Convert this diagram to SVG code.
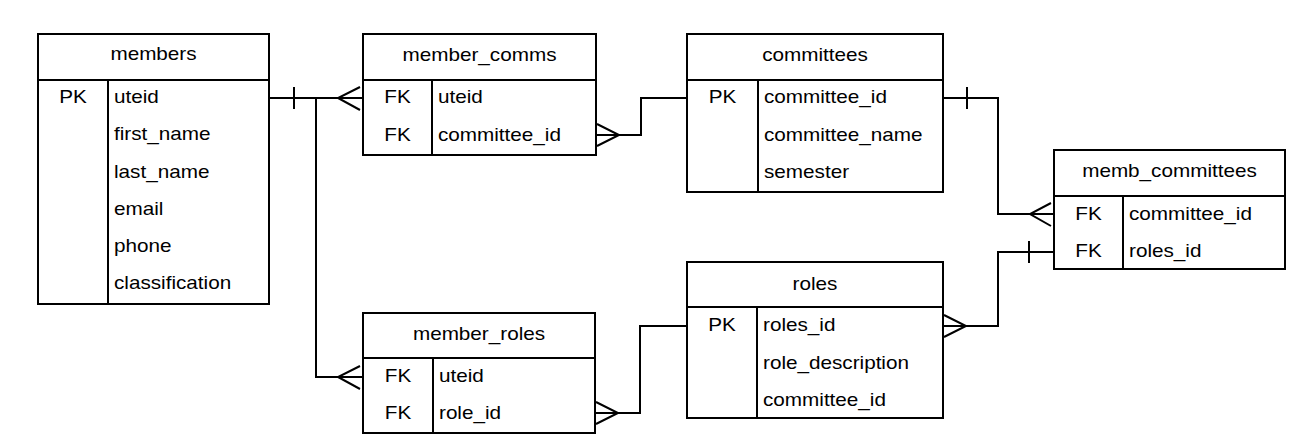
<svg xmlns="http://www.w3.org/2000/svg" width="1300" height="445" viewBox="0 0 1300 445">
<style>
  .box { fill: #ffffff; stroke: #000000; stroke-width: 2; }
  .ln { fill: none; stroke: #000000; stroke-width: 2; }
  text { font-family: "Liberation Sans", Arial, sans-serif; font-size: 18px; fill: #000000; transform-box: fill-box; transform: scaleX(1.15); }
  .h { text-anchor: middle; transform-origin: center; }
  .k { text-anchor: middle; transform-origin: center; }
  .f { text-anchor: start; transform-origin: left; }
</style>
<rect width="1300" height="445" fill="#ffffff"/>

<g id="connectors">
  <!-- members.uteid to member_comms.uteid -->
  <path class="ln" d="M269,98 H363"/>
  <path class="ln" d="M294,87 V109"/>
  <path class="ln" d="M360,87 L338,98 L360,110"/>
  <!-- members.uteid to member_roles.uteid -->
  <path class="ln" d="M316,98 V377 H363"/>
  <path class="ln" d="M360,366 L338,377 L360,389"/>
  <!-- member_comms.committee_id to committees.committee_id -->
  <path class="ln" d="M596,135 H641 V98 H687"/>
  <path class="ln" d="M597,124 L619,135 L597,146"/>
  <!-- committees.committee_id to memb_committees.committee_id -->
  <path class="ln" d="M943,98 H998 V214 H1054"/>
  <path class="ln" d="M967,87 V109"/>
  <path class="ln" d="M1051,203 L1030,214 L1051,226"/>
  <!-- member_roles.role_id to roles.roles_id -->
  <path class="ln" d="M595,413 H640 V326 H687"/>
  <path class="ln" d="M596,402 L618,413 L596,424"/>
  <!-- roles.roles_id to memb_committees.roles_id -->
  <path class="ln" d="M943,326 H998 V252 H1054"/>
  <path class="ln" d="M944,315 L966,326 L944,337"/>
  <path class="ln" d="M1029,241 V263"/>
</g>

<g id="members">
  <rect class="box" x="38" y="34" width="231" height="270"/>
  <path class="ln" d="M38,80 H269 M108,80 V304"/>
  <text class="h" x="153.5" y="60">members</text>
  <text class="k" x="73" y="103">PK</text>
  <text class="f" x="114" y="103">uteid</text>
  <text class="f" x="114" y="140.5">first_name</text>
  <text class="f" x="114" y="178">last_name</text>
  <text class="f" x="114" y="215">email</text>
  <text class="f" x="114" y="252">phone</text>
  <text class="f" x="114" y="289.5">classification</text>
</g>

<g id="member_comms">
  <rect class="box" x="363" y="34" width="233" height="121"/>
  <path class="ln" d="M363,80 H596 M432,80 V155"/>
  <text class="h" x="479.5" y="61">member_comms</text>
  <text class="k" x="397.5" y="103.5">FK</text>
  <text class="f" x="438" y="103.5">uteid</text>
  <text class="k" x="397.5" y="141">FK</text>
  <text class="f" x="438" y="141">committee_id</text>
</g>

<g id="committees">
  <rect class="box" x="687" y="34" width="256" height="158"/>
  <path class="ln" d="M687,80 H943 M758,80 V192"/>
  <text class="h" x="815" y="61">committees</text>
  <text class="k" x="722.5" y="103.5">PK</text>
  <text class="f" x="764" y="103.5">committee_id</text>
  <text class="f" x="764" y="141">committee_name</text>
  <text class="f" x="764" y="178">semester</text>
</g>

<g id="memb_committees">
  <rect class="box" x="1054" y="150" width="231" height="119"/>
  <path class="ln" d="M1054,196 H1285 M1123,196 V269"/>
  <text class="h" x="1169.5" y="177">memb_committees</text>
  <text class="k" x="1088.5" y="220">FK</text>
  <text class="f" x="1129" y="220">committee_id</text>
  <text class="k" x="1088.5" y="257">FK</text>
  <text class="f" x="1129" y="257">roles_id</text>
</g>

<g id="member_roles">
  <rect class="box" x="363" y="313" width="232" height="120"/>
  <path class="ln" d="M363,358 H595 M433,358 V433"/>
  <text class="h" x="479" y="340.5">member_roles</text>
  <text class="k" x="398" y="382">FK</text>
  <text class="f" x="439" y="382">uteid</text>
  <text class="k" x="398" y="419">FK</text>
  <text class="f" x="439" y="419">role_id</text>
</g>

<g id="roles">
  <rect class="box" x="687" y="262" width="256" height="156"/>
  <path class="ln" d="M687,307 H943 M757,307 V418"/>
  <text class="h" x="815" y="290">roles</text>
  <text class="k" x="722" y="331.5">PK</text>
  <text class="f" x="763" y="331.5">roles_id</text>
  <text class="f" x="763" y="369">role_description</text>
  <text class="f" x="763" y="406">committee_id</text>
</g>
</svg>
